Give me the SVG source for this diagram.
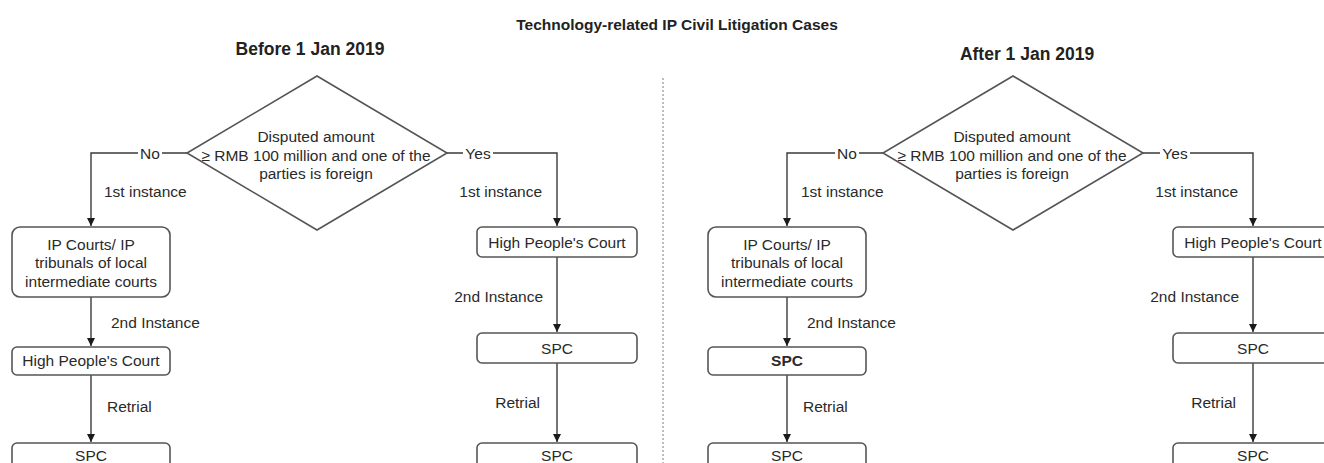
<svg xmlns="http://www.w3.org/2000/svg" width="1324" height="463" viewBox="0 0 1324 463">
<style>
.t{font-family:"Liberation Sans",Arial,sans-serif;font-size:15.5px;fill:#2a2a2a}
.c{text-anchor:middle}
.e{text-anchor:end}
.h{font-family:"Liberation Sans",Arial,sans-serif;font-weight:bold;font-size:17.5px;fill:#222;text-anchor:middle}
.title{font-family:"Liberation Sans",Arial,sans-serif;font-weight:bold;font-size:15.5px;fill:#222;text-anchor:middle}
.box{fill:#fff;stroke:#555;stroke-width:1.6}
.ln{fill:none;stroke:#3a3a3a;stroke-width:1.4}
.bg{fill:#fff}
</style>
<defs>
<marker id="ah" markerUnits="userSpaceOnUse" markerWidth="10" markerHeight="10" refX="4" refY="8" orient="auto-start-reverse" viewBox="0 0 8 8">
<path d="M0,0 L8,0 L4,8 Z" fill="#1a1a1a" transform="rotate(0)"/>
</marker>
<marker id="arr" markerUnits="userSpaceOnUse" markerWidth="8" markerHeight="9" refX="8" refY="4" orient="auto" viewBox="0 0 8 8">
<path d="M0,0 L8,4 L0,8 Z" fill="#1a1a1a"/>
</marker>
</defs>

<text class="title" x="677" y="30">Technology-related IP Civil Litigation Cases</text>
<text class="h" x="310" y="55">Before 1 Jan 2019</text>
<text class="h" x="1027" y="60">After 1 Jan 2019</text>

<line x1="663" y1="78" x2="663" y2="463" stroke="#9a9a9a" stroke-width="1.3" stroke-dasharray="2 2"/>

<g id="connectors">
<path class="ln" d="M187,153 H91 V226" marker-end="url(#arr)"/>
<path class="ln" d="M447,153 H557 V226" marker-end="url(#arr)"/>
<path class="ln" d="M91,297 V346" marker-end="url(#arr)"/>
<path class="ln" d="M91,375 V442" marker-end="url(#arr)"/>
<path class="ln" d="M557,257 V332" marker-end="url(#arr)"/>
<path class="ln" d="M557,363 V442" marker-end="url(#arr)"/>

<path class="ln" d="M883,153 H787 V226" marker-end="url(#arr)"/>
<path class="ln" d="M1143,153 H1253 V226" marker-end="url(#arr)"/>
<path class="ln" d="M787,297 V346" marker-end="url(#arr)"/>
<path class="ln" d="M787,375 V442" marker-end="url(#arr)"/>
<path class="ln" d="M1253,257 V332" marker-end="url(#arr)"/>
<path class="ln" d="M1253,363 V442" marker-end="url(#arr)"/>

<rect class="bg" x="138" y="145" width="24" height="16"/>
<text class="t c" x="150" y="158.5">No</text>
<rect class="bg" x="463" y="145" width="30" height="16"/>
<text class="t c" x="478" y="158.5">Yes</text>
<text class="t" x="104" y="197">1st instance</text>
<text class="t e" x="542" y="197">1st instance</text>
<text class="t" x="111" y="328">2nd Instance</text>
<text class="t e" x="543" y="302">2nd Instance</text>
<text class="t" x="107" y="412">Retrial</text>
<text class="t e" x="540" y="408">Retrial</text>

<rect class="bg" x="835" y="145" width="24" height="16"/>
<text class="t c" x="847" y="158.5">No</text>
<rect class="bg" x="1160" y="145" width="30" height="16"/>
<text class="t c" x="1175" y="158.5">Yes</text>
<text class="t" x="801" y="197">1st instance</text>
<text class="t e" x="1238" y="197">1st instance</text>
<text class="t" x="807" y="328">2nd Instance</text>
<text class="t e" x="1239" y="302">2nd Instance</text>
<text class="t" x="803" y="412">Retrial</text>
<text class="t e" x="1236" y="408">Retrial</text>
</g>

<g id="before-decision">
<polygon class="box" points="317,76 447,153 317,230 187,153"/>
<text class="t c" x="316" y="142">Disputed amount</text>
<text class="t c" x="316" y="161">≥ RMB 100 million and one of the</text>
<text class="t c" x="316" y="179">parties is foreign</text>
</g>
<g id="before-ip-courts">
<rect class="box" x="12" y="227" width="158" height="70" rx="8"/>
<text class="t c" x="91" y="250">IP Courts/ IP</text>
<text class="t c" x="91" y="268">tribunals of local</text>
<text class="t c" x="91" y="287">intermediate courts</text>
</g>
<g id="before-high-court-2nd">
<rect class="box" x="12" y="347" width="158" height="28" rx="5"/>
<text class="t c" x="91" y="366">High People's Court</text>
</g>
<g id="before-spc-retrial-left">
<rect class="box" x="12" y="443" width="158" height="29" rx="5"/>
<text class="t c" x="91" y="461">SPC</text>
</g>
<g id="before-high-court-1st">
<rect class="box" x="477" y="227" width="160" height="30" rx="5"/>
<text class="t c" x="557" y="247.5">High People's Court</text>
</g>
<g id="before-spc-2nd">
<rect class="box" x="477" y="333" width="160" height="30" rx="5"/>
<text class="t c" x="557" y="354">SPC</text>
</g>
<g id="before-spc-retrial-right">
<rect class="box" x="477" y="443" width="160" height="29" rx="5"/>
<text class="t c" x="557" y="461">SPC</text>
</g>

<g id="after-decision">
<polygon class="box" points="1013,76 1143,153 1013,230 883,153"/>
<text class="t c" x="1012" y="142">Disputed amount</text>
<text class="t c" x="1012" y="161">≥ RMB 100 million and one of the</text>
<text class="t c" x="1012" y="179">parties is foreign</text>
</g>
<g id="after-ip-courts">
<rect class="box" x="708" y="227" width="158" height="70" rx="8"/>
<text class="t c" x="787" y="250">IP Courts/ IP</text>
<text class="t c" x="787" y="268">tribunals of local</text>
<text class="t c" x="787" y="287">intermediate courts</text>
</g>
<g id="after-spc-2nd-left">
<rect class="box" x="708" y="347" width="158" height="28" rx="5"/>
<text class="t c" x="787" y="366" font-weight="bold">SPC</text>
</g>
<g id="after-spc-retrial-left">
<rect class="box" x="708" y="443" width="158" height="29" rx="5"/>
<text class="t c" x="787" y="461">SPC</text>
</g>
<g id="after-high-court-1st">
<rect class="box" x="1173" y="227" width="160" height="30" rx="5"/>
<text class="t c" x="1253" y="247.5">High People's Court</text>
</g>
<g id="after-spc-2nd-right">
<rect class="box" x="1173" y="333" width="160" height="30" rx="5"/>
<text class="t c" x="1253" y="354">SPC</text>
</g>
<g id="after-spc-retrial-right">
<rect class="box" x="1173" y="443" width="160" height="29" rx="5"/>
<text class="t c" x="1253" y="461">SPC</text>
</g>
</svg>
